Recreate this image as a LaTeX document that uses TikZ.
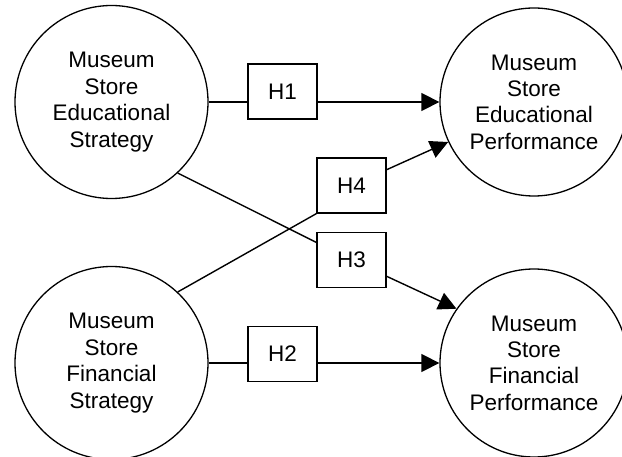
\documentclass[tikz,border=0pt]{standalone}
\usepackage{fontspec}
\setmainfont{Liberation Sans}
\usetikzlibrary{arrows.meta}
\begin{document}
\begin{tikzpicture}[x=1pt,y=-1pt,
  every node/.style={font=\fontsize{22.5}{26.4}\selectfont},
  circ/.style={draw,circle,line width=1.3pt,inner sep=0pt,minimum size=#1,align=center},
  hbox/.style={draw,rectangle,line width=1.3pt,minimum width=69pt,minimum height=55pt,inner sep=0pt},
  conn/.style={line width=1.4pt},
  arr/.style={conn,-{Triangle[length=18pt,width=18pt]}}]
\useasboundingbox (0,0) rectangle (622,457);
\node[circ=193pt] (tl) at (111.5,102) {Museum\\Store\\Educational\\Strategy};
\node[circ=188pt] (tr) at (534,102) {Museum\\Store\\Educational\\Performance};
\node[circ=193pt] (bl) at (111.5,363) {Museum\\Store\\Financial\\Strategy};
\node[circ=188pt] (br) at (534,363) {Museum\\Store\\Financial\\Performance};
\node[hbox] (h1) at (282.5,91.5) {H1};
\node[hbox] (h4) at (351.5,185.5) {H4};
\node[hbox] (h3) at (351.5,260) {H3};
\node[hbox] (h2) at (282.5,354) {H2};
\draw[conn] (tl) -- (tl -| h1.west);
\draw[arr] (h1.east |- tr) -- (tr);
\draw[conn] (bl) -- (bl -| h2.west);
\draw[arr] (h2.east |- br) -- (br);
\draw[conn] (tl.-47) -- (h3);
\draw[conn] (bl.47) -- (h4.south west);
\draw[arr] (h4) -- (tr.205);
\draw[arr] (h3) -- (br.145);
\end{tikzpicture}
\end{document}
